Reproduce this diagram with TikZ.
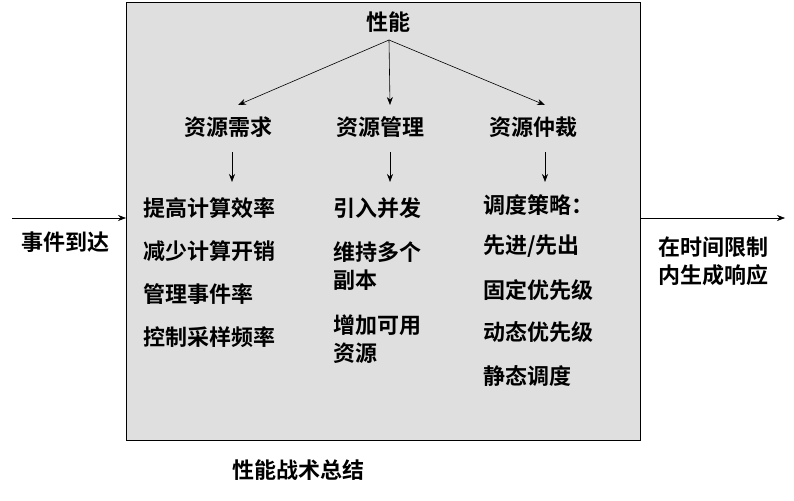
\documentclass[tikz,border=0pt]{standalone}
\usepackage{fontspec}
\newfontfamily\cjk{Noto Sans CJK SC}[BoldFont={Noto Sans CJK SC Bold}]
\usetikzlibrary{positioning,arrows.meta}
\begin{document}
\begin{tikzpicture}[x=1pt,y=-1pt,
txt/.style={font=\cjk\bfseries\fontsize{22}{28}\selectfont, inner sep=0pt},
item/.style={txt, anchor=west, align=left},
arr/.style={-{Stealth[length=8pt,width=6pt]}, semithick},
]
\useasboundingbox (0,0) rectangle (794,500);
\draw[fill=gray!25] (126,2) rectangle (640,440);
\node[txt] (perf) at (388,22) {性能};
\coordinate (top) at (389,40);
\node[txt] (demand) at (228,127) {资源需求};
\node[txt] (manage) at (380,127) {资源管理};
\node[txt] (arbit) at (533,127) {资源仲裁};
\draw[arr] (top) -- (238,105);
\draw[arr] (top) -- (390,105);
\draw[arr] (top) -- (545,105);
\draw[arr] (232,152) -- (232,182);
\draw[arr] (390,152) -- (390,182);
\draw[arr] (545,152) -- (545,182);
% left column
\node[item] (d1) at (143,208) {提高计算效率};
\node[item] (d2) at (143,251) {减少计算开销};
\node[item] (d3) at (143,294) {管理事件率};
\node[item] (d4) at (143,337) {控制采样频率};
% middle column
\node[item] (m1) at (333,208) {引入并发};
\node[item] (m2) at (333,266) {维持多个\\副本};
\node[item] (m3) at (333,339) {增加可用\\资源};
% right column
\node[item] (a1) at (483,205) {调度策略：};
\node[item] (a2) at (483,246) {先进/先出};
\node[item] (a3) at (483,290) {固定优先级};
\node[item] (a4) at (483,332) {动态优先级};
\node[item] (a5) at (483,376) {静态调度};
% in and out
\coordinate (inl) at (12,218);
\coordinate (inr) at (126,218);
\coordinate (outl) at (640,218);
\coordinate (outr) at (785,218);
\draw[arr] (inl) -- (inr);
\draw[arr] (outl) -- (outr);
\node[txt] (event) at (65,242) {事件到达};
\node[txt, align=center] (resp) at (713,261) {在时间限制\\内生成响应};
\node[txt] (caption) at (298,470) {性能战术总结};
\end{tikzpicture}
\end{document}
